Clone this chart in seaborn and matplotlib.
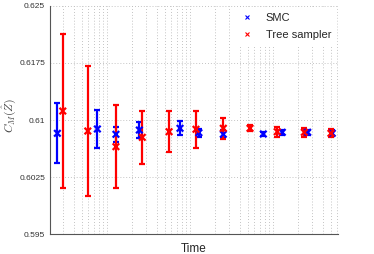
import numpy as np
import pandas as pd
import matplotlib
matplotlib.use("Agg")
import matplotlib.pyplot as plt
import seaborn as sns

# (x on a log time axis)
smc_time = [2.54, 7.71, 12.9, 24.7, 76.4, 129, 254, 771, 1306, 2642, 5224]
smc_value = [0.60825, 0.60882, 0.60812, 0.60868, 0.60891, 0.60833, 0.60812, 0.60816, 0.60838, 0.60838, 0.60825]
smc_err = [0.00395, 0.00248, 0.0010, 0.0010, 0.0009, 0.00055, 0.00055, 0.0003, 0.0003, 0.0003, 0.0004]

tree_time = [2.95, 5.91, 12.9, 26.8, 56.4, 119, 254, 533, 1135, 2404, 5036]
tree_value = [0.61118, 0.60855, 0.60649, 0.60772, 0.60846, 0.60878, 0.60891, 0.60891, 0.60846, 0.60838, 0.60825]
tree_err = [0.0101, 0.00855, 0.0055, 0.0035, 0.0027, 0.0024, 0.00136, 0.0004, 0.00066, 0.0006, 0.00055]

series = ["SMC", "Tree sampler"]
colors = {"SMC": "#0000ff", "Tree sampler": "#ff0000"}
yticks = [0.595, 0.6025, 0.61, 0.6175, 0.625]
ytick_labels = ["0.595", "0.6025", "0.61", "0.6175", "0.625"]

df = pd.concat([
    pd.DataFrame({"time": smc_time, "value": smc_value, "err": smc_err, "method": "SMC"}),
    pd.DataFrame({"time": tree_time, "value": tree_value, "err": tree_err, "method": "Tree sampler"}),
])

sns.set_style("white")
plt.rcParams['font.family'] = ['Liberation Sans', 'DejaVu Sans']
plt.rcParams['mathtext.fontset'] = 'cm'

fig = plt.figure(figsize=(3.74, 2.54), dpi=100)
ax = fig.add_axes([0.1337, 0.0787, 0.77, 0.8977])

for m in series:
    d = df[df["method"] == m]
    ax.errorbar(d["time"], d["value"], yerr=d["err"], fmt="none", ecolor=colors[m],
                elinewidth=1.6, capsize=2.2, capthick=1.6, zorder=3)

sns.scatterplot(data=df, x="time", y="value", hue="method", palette=colors,
                marker="x", s=22, linewidth=1.6, ax=ax, zorder=4, legend=False)

ax.set_xscale("log")
ax.set_xlim(2.07, 6124)
ax.set_ylim(0.595, 0.625)
ax.set_yticks(yticks)
ax.set_yticklabels(ytick_labels, fontsize=6, color="#333333")
ax.xaxis.set_ticklabels([], minor=False)
ax.xaxis.set_ticklabels([], minor=True)
ax.tick_params(axis="both", which="both", direction="in", length=2.5, width=0.6, color="#444444")
ax.tick_params(axis="x", which="minor", length=1.5)

ax.grid(True, which="major", axis="both", linestyle=(0, (1, 2.5)), linewidth=0.6, color="#b0b0b0")
ax.grid(True, which="minor", axis="x", linestyle=(0, (1, 2.5)), linewidth=0.6, color="#b0b0b0")

for s in ["top", "right"]:
    ax.spines[s].set_visible(False)
for s in ["left", "bottom"]:
    ax.spines[s].set_color("#555555")
    ax.spines[s].set_linewidth(0.8)

ax.set_xlabel("Time", fontsize=8.5, labelpad=3)
ax.set_ylabel(r"$C_M(\hat{Z})$", fontsize=8.5, color="#444444")
ax.yaxis.set_label_coords(-0.11, 0.52)

handles = [plt.Line2D([], [], linestyle="none", marker="x", markersize=3,
                      markeredgewidth=0.8, color=colors[m]) for m in series]
ax.legend(handles, series, loc="upper right", fontsize=8, frameon=True, framealpha=1,
          edgecolor="white", fancybox=False, handletextpad=0.9, borderaxespad=0.2,
          labelspacing=0.65, handlelength=1.5)

fig.savefig("out.png", dpi=100)
